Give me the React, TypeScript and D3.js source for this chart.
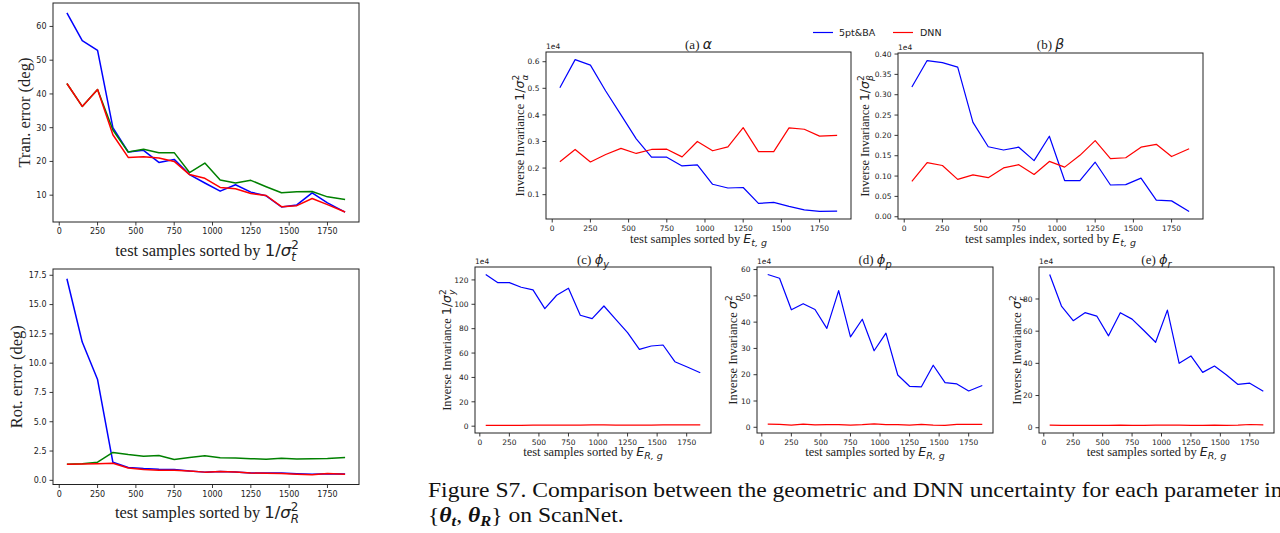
import React from 'react';
import * as d3 from 'd3';

// sample bins (x positions, test samples)
const sampleIdx = [50, 150, 250, 350, 450, 550, 650, 750, 850, 950, 1050, 1150, 1250, 1350, 1450, 1550, 1650, 1750, 1865];
const xTickVals = [0, 250, 500, 750, 1000, 1250, 1500, 1750];

// Left column: errors
const tranGeo = [64.0, 55.8, 52.9, 30.0, 22.8, 23.3, 19.7, 20.6, 16.1, 13.6, 11.2, 13.1, 10.9, 9.8, 6.5, 7.1, 10.7, 7.7, 5.0];
const tranMid = [43.1, 36.3, 41.3, 29.3, 22.8, 23.6, 22.6, 22.6, 16.7, 19.5, 14.5, 13.6, 14.4, 12.5, 10.7, 11.0, 11.1, 9.5, 8.7];
const tranDnn = [43.1, 36.3, 41.3, 27.9, 21.2, 21.4, 21.0, 20.0, 16.1, 15.0, 12.3, 11.9, 10.5, 9.9, 6.6, 6.9, 9.0, 7.2, 5.0];
const tranTicks = [10, 20, 30, 40, 50, 60];

const rotGeo = [17.2, 11.8, 8.6, 1.54, 1.1, 1.0, 0.95, 0.93, 0.8, 0.7, 0.75, 0.72, 0.63, 0.63, 0.62, 0.57, 0.52, 0.57, 0.53];
const rotMid = [1.38, 1.42, 1.55, 2.38, 2.2, 2.05, 2.12, 1.78, 1.95, 2.1, 1.92, 1.9, 1.85, 1.8, 1.88, 1.82, 1.85, 1.87, 1.95];
const rotDnn = [1.38, 1.4, 1.42, 1.45, 1.05, 0.92, 0.87, 0.87, 0.8, 0.7, 0.76, 0.72, 0.62, 0.6, 0.58, 0.52, 0.48, 0.58, 0.52];
const rotTicks = [0, 2.5, 5, 7.5, 10, 12.5, 15, 17.5];

// Right block: inverse invariance (x1e4)
const alphaGeo = [0.502, 0.608, 0.587, 0.49, 0.40, 0.31, 0.241, 0.241, 0.208, 0.212, 0.139, 0.125, 0.127, 0.067, 0.071, 0.056, 0.043, 0.037, 0.038];
const alphaDnn = [0.224, 0.27, 0.223, 0.251, 0.274, 0.255, 0.27, 0.271, 0.242, 0.30, 0.265, 0.28, 0.352, 0.262, 0.262, 0.351, 0.346, 0.32, 0.323];
const alphaTicks = [0.1, 0.2, 0.3, 0.4, 0.5, 0.6];

const betaGeo = [0.319, 0.384, 0.379, 0.368, 0.232, 0.172, 0.164, 0.171, 0.138, 0.198, 0.089, 0.089, 0.134, 0.078, 0.079, 0.095, 0.041, 0.039, 0.013];
const betaDnn = [0.087, 0.133, 0.126, 0.092, 0.103, 0.096, 0.12, 0.128, 0.104, 0.136, 0.122, 0.151, 0.187, 0.143, 0.145, 0.171, 0.178, 0.148, 0.167];
const betaTicks = [0, 0.05, 0.1, 0.15, 0.2, 0.25, 0.3, 0.35, 0.4];

const phiyGeo = [124.4, 117.8, 117.8, 114.0, 111.8, 96.4, 107.4, 113.2, 91.0, 88.2, 98.6, 87.7, 76.7, 63.0, 65.8, 66.6, 52.9, 48.8, 43.8];
const phiyDnn = [0.6, 0.6, 0.7, 0.7, 0.8, 0.8, 0.8, 0.9, 0.9, 1.0, 1.0, 0.9, 0.9, 0.9, 0.9, 1.0, 1.0, 1.0, 1.0];
const phiyTicks = [0, 20, 40, 60, 80, 100, 120];

const phipGeo = [58.1, 56.7, 44.7, 47.0, 44.8, 37.6, 52.0, 34.4, 41.1, 29.1, 35.8, 19.9, 15.6, 15.4, 23.6, 17.0, 16.5, 13.8, 15.9];
const phipDnn = [1.2, 1.1, 0.8, 1.2, 0.9, 1.0, 1.0, 0.8, 1.0, 1.3, 1.0, 1.0, 0.8, 1.1, 0.8, 0.7, 1.1, 1.1, 1.1];
const phipTicks = [0, 10, 20, 30, 40, 50, 60];

const phirGeo = [95.2, 75.6, 66.5, 71.5, 69.4, 57.1, 71.5, 67.5, 60.4, 53.1, 73.1, 40.0, 44.6, 34.4, 38.3, 32.9, 26.9, 27.7, 22.7];
const phirDnn = [1.6, 1.4, 1.4, 1.5, 1.5, 1.5, 1.6, 1.4, 1.5, 1.6, 1.6, 1.6, 1.4, 1.5, 1.6, 1.5, 1.6, 2.0, 1.8];
const phirTicks = [0, 20, 40, 60, 80];

const legendLabels = ['5pt&BA', 'DNN'];

const BLUE = '#0000ff';
const RED = '#ff0000';
const GREEN = '#008000';
const SANS = 'DejaVu Sans';
const SERIF = 'Liberation Serif';
const INK = '#222';

function padded(ext: [number, number]): [number, number] {
  const r = ext[1] - ext[0];
  return [ext[0] - 0.05 * r, ext[1] + 0.05 * r];
}

type Ser = { values: number[]; color: string };

function Panel(props: {
  L: number; T: number; R: number; B: number;
  series: Ser[]; yTicks: number[]; yFmt: (v: number) => string;
  lw: number; fs: number; e4?: boolean;
}) {
  const { L, T, R, B, series, yTicks, yFmt, lw, fs, e4 } = props;
  const x = d3.scaleLinear().domain(padded(d3.extent(sampleIdx) as [number, number])).range([L, R]);
  const all = series.flatMap((s) => s.values);
  const y = d3.scaleLinear().domain(padded(d3.extent(all) as [number, number])).range([B, T]);
  const line = d3.line<number>().x((_, i) => x(sampleIdx[i])).y((d) => y(d));
  const tl = 3.5;
  return (
    <g>
      {series.map((s, i) => (
        <path key={i} d={line(s.values) || ''} fill="none" stroke={s.color} strokeWidth={lw} strokeLinejoin="round" />
      ))}
      <rect x={L} y={T} width={R - L} height={B - T} fill="none" stroke={INK} strokeWidth={1} />
      {xTickVals.map((v) => (
        <g key={'x' + v}>
          <line x1={x(v)} x2={x(v)} y1={B} y2={B + tl} stroke={INK} strokeWidth={0.9} />
          <text x={x(v)} y={B + tl + 2.5 + fs * 0.75} textAnchor="middle" fontFamily={SANS} fontSize={fs} fill={INK}>{v}</text>
        </g>
      ))}
      {yTicks.map((v) => (
        <g key={'y' + v}>
          <line x1={L - tl} x2={L} y1={y(v)} y2={y(v)} stroke={INK} strokeWidth={0.9} />
          <text x={L - tl - 3} y={y(v) + fs * 0.36} textAnchor="end" fontFamily={SANS} fontSize={fs} fill={INK}>{yFmt(v)}</text>
        </g>
      ))}
      {e4 && (
        <text x={L} y={T - 3} fontFamily={SANS} fontSize={fs} fill={INK}>1e4</text>
      )}
    </g>
  );
}

// math helpers
function SubSup({ base, sub, sup, fs, bold }: { base: string; sub: string; sup?: string; fs: number; bold?: boolean }) {
  const small = fs * 0.7;
  if (sup) {
    return (
      <>
        <tspan fontFamily={SANS} fontStyle="italic">{base}</tspan>
        <tspan fontFamily={SANS} fontSize={small} dy={-fs * 0.42}>{sup}</tspan>
        <tspan fontFamily={SANS} fontStyle="italic" fontSize={small} dx={-small * 0.636} dy={fs * 0.72}>{sub}</tspan>
      </>
    );
  }
  return (
    <>
      <tspan fontFamily={SANS} fontStyle="italic" fontWeight={bold ? 'bold' : 'normal'}>{base}</tspan>
      <tspan fontFamily={SANS} fontStyle="italic" fontSize={small} dy={fs * 0.25}>{sub}</tspan>
    </>
  );
}

const fmt0 = (v: number) => d3.format('d')(v);
const fmt1 = (v: number) => d3.format('.1f')(v);
const fmt2 = (v: number) => d3.format('.2f')(v);

export default function App() {
  const A = { L: 546, T: 52, R: 851, B: 219 };
  const Bp = { L: 898, T: 53, R: 1203, B: 219 };
  const C = { L: 475, T: 267, R: 711, B: 433 };
  const D = { L: 757, T: 267, R: 993, B: 433 };
  const E = { L: 1039, T: 267, R: 1274, B: 433 };
  const P1 = { L: 53, T: 3, R: 359, B: 222 };
  const P2 = { L: 53, T: 269, R: 359, B: 484.5 };
  const mid = (p: { L: number; R: number }) => (p.L + p.R) / 2;
  const vmid = (p: { T: number; B: number }) => (p.T + p.B) / 2;
  const rfs = 12.5;
  const lfs = 16.5;
  return (
    <svg width={1280} height={533} style={{ position: 'absolute', left: 0, top: 0, background: '#fff' }}>
      <rect x={0} y={0} width={1280} height={533} fill="#fff" />
      {/* Left column */}
      <Panel {...P1} series={[{ values: tranGeo, color: BLUE }, { values: tranMid, color: GREEN }, { values: tranDnn, color: RED }]} yTicks={tranTicks} yFmt={fmt0} lw={1.5} fs={8} />
      <text transform={`translate(30,${vmid(P1)}) rotate(-90)`} textAnchor="middle" fontFamily={SERIF} fontSize={lfs} fill={INK}>Tran. error (deg)</text>
      <text x={mid(P1) + 1} y={256} textAnchor="middle" fontFamily={SERIF} fontSize={lfs} fill={INK}>
        test samples sorted by <tspan fontFamily={SANS}>1/</tspan><SubSup base="σ" sub="t" sup="2" fs={lfs + 0.5} />
      </text>

      <Panel {...P2} series={[{ values: rotGeo, color: BLUE }, { values: rotMid, color: GREEN }, { values: rotDnn, color: RED }]} yTicks={rotTicks} yFmt={fmt1} lw={1.5} fs={8} />
      <text transform={`translate(22,${vmid(P2)}) rotate(-90)`} textAnchor="middle" fontFamily={SERIF} fontSize={lfs} fill={INK}>Rot. error (deg)</text>
      <text x={mid(P2) + 1} y={518} textAnchor="middle" fontFamily={SERIF} fontSize={lfs} fill={INK}>
        test samples sorted by <tspan fontFamily={SANS}>1/</tspan><SubSup base="σ" sub="R" sup="2" fs={lfs + 0.5} />
      </text>

      {/* Legend */}
      <line x1={813} x2={833} y1={32.5} y2={32.5} stroke={BLUE} strokeWidth={1.2} />
      <text x={839} y={36} fontFamily={SANS} fontSize={9.5} fill={INK}>{legendLabels[0]}</text>
      <line x1={893} x2={913} y1={32.5} y2={32.5} stroke={RED} strokeWidth={1.2} />
      <text x={920} y={36} fontFamily={SANS} fontSize={9.5} fill={INK}>{legendLabels[1]}</text>

      {/* (a) alpha */}
      <Panel {...A} series={[{ values: alphaGeo, color: BLUE }, { values: alphaDnn, color: RED }]} yTicks={alphaTicks} yFmt={fmt1} lw={1.2} fs={7.5} e4 />
      <text x={mid(A)} y={49} textAnchor="middle" fontFamily={SERIF} fontSize={13} fill={INK}>
        (a)  <tspan fontFamily={SANS} fontStyle="italic" fontSize={14}>α</tspan>
      </text>
      <text transform={`translate(524,${vmid(A)}) rotate(-90)`} textAnchor="middle" fontFamily={SERIF} fontSize={rfs} fill={INK}>
        Inverse Invariance <tspan fontFamily={SANS}>1/</tspan><SubSup base="σ" sub="α" sup="2" fs={rfs + 0.5} />
      </text>
      <text x={mid(A)} y={243} textAnchor="middle" fontFamily={SERIF} fontSize={rfs} fill={INK}>
        test samples sorted by <SubSup base="E" sub="t, g" fs={rfs + 1} />
      </text>

      {/* (b) beta */}
      <Panel {...Bp} series={[{ values: betaGeo, color: BLUE }, { values: betaDnn, color: RED }]} yTicks={betaTicks} yFmt={fmt2} lw={1.2} fs={7.5} e4 />
      <text x={mid(Bp)} y={49} textAnchor="middle" fontFamily={SERIF} fontSize={13} fill={INK}>
        (b)  <tspan fontFamily={SANS} fontStyle="italic" fontSize={14}>β</tspan>
      </text>
      <text transform={`translate(869,${vmid(Bp)}) rotate(-90)`} textAnchor="middle" fontFamily={SERIF} fontSize={rfs} fill={INK}>
        Inverse Invariance <tspan fontFamily={SANS}>1/</tspan><SubSup base="σ" sub="β" sup="2" fs={rfs + 0.5} />
      </text>
      <text x={mid(Bp)} y={243} textAnchor="middle" fontFamily={SERIF} fontSize={rfs} fill={INK}>
        test samples index, sorted by  <SubSup base="E" sub="t, g" fs={rfs + 1} />
      </text>

      {/* (c) phi_y */}
      <Panel {...C} series={[{ values: phiyGeo, color: BLUE }, { values: phiyDnn, color: RED }]} yTicks={phiyTicks} yFmt={fmt0} lw={1.2} fs={7.5} e4 />
      <text x={mid(C)} y={264} textAnchor="middle" fontFamily={SERIF} fontSize={13} fill={INK}>
        (c)  <SubSup base="ϕ" sub="y" fs={14} />
      </text>
      <text transform={`translate(451,${vmid(C)}) rotate(-90)`} textAnchor="middle" fontFamily={SERIF} fontSize={rfs} fill={INK}>
        Inverse Invariance <tspan fontFamily={SANS}>1/</tspan><SubSup base="σ" sub="y" sup="2" fs={rfs + 0.5} />
      </text>
      <text x={mid(C)} y={456} textAnchor="middle" fontFamily={SERIF} fontSize={rfs} fill={INK}>
        test samples sorted by  <SubSup base="E" sub="R, g" fs={rfs + 1} />
      </text>

      {/* (d) phi_p */}
      <Panel {...D} series={[{ values: phipGeo, color: BLUE }, { values: phipDnn, color: RED }]} yTicks={phipTicks} yFmt={fmt0} lw={1.2} fs={7.5} e4 />
      <text x={mid(D)} y={264} textAnchor="middle" fontFamily={SERIF} fontSize={13} fill={INK}>
        (d)  <SubSup base="ϕ" sub="p" fs={14} />
      </text>
      <text transform={`translate(737,${vmid(D)}) rotate(-90)`} textAnchor="middle" fontFamily={SERIF} fontSize={rfs} fill={INK}>
        Inverse Invariance <SubSup base="σ" sub="p" sup="2" fs={rfs + 0.5} />
      </text>
      <text x={mid(D)} y={456} textAnchor="middle" fontFamily={SERIF} fontSize={rfs} fill={INK}>
        test samples sorted by  <SubSup base="E" sub="R, g" fs={rfs + 1} />
      </text>

      {/* (e) phi_r */}
      <Panel {...E} series={[{ values: phirGeo, color: BLUE }, { values: phirDnn, color: RED }]} yTicks={phirTicks} yFmt={fmt0} lw={1.2} fs={7.5} e4 />
      <text x={mid(E)} y={264} textAnchor="middle" fontFamily={SERIF} fontSize={13} fill={INK}>
        (e)  <SubSup base="ϕ" sub="r" fs={14} />
      </text>
      <text transform={`translate(1021,${vmid(E)}) rotate(-90)`} textAnchor="middle" fontFamily={SERIF} fontSize={rfs} fill={INK}>
        Inverse Invariance <SubSup base="σ" sub="r" sup="2" fs={rfs + 0.5} />
      </text>
      <text x={mid(E)} y={456} textAnchor="middle" fontFamily={SERIF} fontSize={rfs} fill={INK}>
        test samples sorted by  <SubSup base="E" sub="R, g" fs={rfs + 1} />
      </text>

      {/* Caption */}
      <g transform="translate(428,0) scale(1.18,1)">
        <text x={0} y={497} fontFamily={SERIF} fontSize={20} fill="#111">
          Figure S7. Comparison between the geometric and DNN uncertainty for each parameter in
        </text>
        <text x={0} y={522} fontFamily={SERIF} fontSize={20} fill="#111">
          {'{'}<tspan fontWeight="bold" fontStyle="italic">θ</tspan><tspan fontWeight="bold" fontStyle="italic" fontSize={14} dy={4}>t</tspan><tspan dy={-4}>, </tspan><tspan fontWeight="bold" fontStyle="italic">θ</tspan><tspan fontWeight="bold" fontStyle="italic" fontSize={14} dy={4}>R</tspan><tspan dy={-4}>{'}'} on ScanNet.</tspan>
        </text>
      </g>
    </svg>
  );
}
